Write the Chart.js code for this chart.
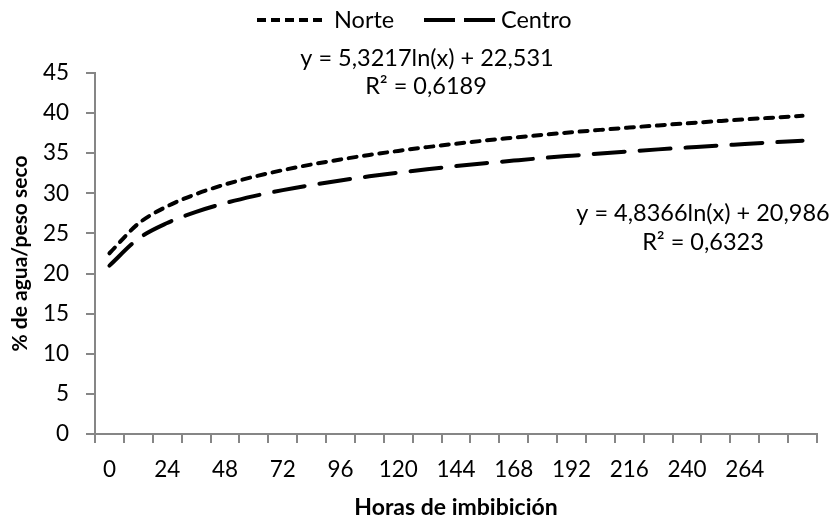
<!DOCTYPE html>
<html>
<head>
<meta charset="utf-8">
<script src="https://cdn.jsdelivr.net/npm/chart.js@4"></script>
<style>
html,body{margin:0;padding:0;background:#fff;}
#wrap{width:836px;height:521px;position:relative;}
</style>
</head>
<body>
<div id="wrap"><canvas id="c" width="836" height="521"></canvas></div>
<script>
// Categories (hours of imbibition, every 12 h)
const categories = ['0','12','24','36','48','60','72','84','96','108','120','132','144','156','168','180','192','204','216','228','240','252','264','276','288'];
// Tick labels shown on the x axis
const tickLabels = ['0','24','48','72','96','120','144','168','192','216','240','264'];
// Series values (trend lines)
const norte = [22.53,26.22,28.38,29.91,31.10,32.07,32.89,33.60,34.22,34.79,35.29,35.76,36.18,36.58,36.94,37.29,37.61,37.91,38.20,38.47,38.73,38.98,39.22,39.44,39.66];
const centro = [20.99,24.34,26.30,27.69,28.77,29.65,30.40,31.04,31.61,32.12,32.58,33.00,33.39,33.75,34.08,34.40,34.69,34.97,35.23,35.48,35.71,35.94,36.15,36.36,36.56];
const yTicks = [0,5,10,15,20,25,30,35,40,45];
const seriesNames = ['Norte','Centro'];
const equations = [['y = 5,3217ln(x) + 22,531','R² = 0,6189'],['y = 4,8366ln(x) + 20,986','R² = 0,6323']];

const FONT = 'Lato, "Open Sans", sans-serif';
const AXIS = '#868686';

const annot = {
  id:'annot',
  afterDraw(chart){
    const ctx = chart.ctx;
    ctx.save();
    ctx.fillStyle = '#000';
    ctx.font = '23.5px ' + FONT;
    ctx.textBaseline = 'middle';
    // legend
    ctx.strokeStyle = '#000';
    ctx.lineWidth = 4;
    ctx.lineCap = 'butt';
    ctx.setLineDash([9,5]);
    ctx.beginPath(); ctx.moveTo(257,20); ctx.lineTo(327,20); ctx.stroke();
    ctx.setLineDash([31,9]);
    ctx.beginPath(); ctx.moveTo(424,20); ctx.lineTo(496,20); ctx.stroke();
    ctx.setLineDash([]);
    ctx.textAlign = 'left';
    ctx.fillText(seriesNames[0], 334, 20);
    ctx.fillText(seriesNames[1], 501, 20);
    // equations
    ctx.textAlign = 'center';
    ctx.fillText(equations[0][0], 427, 58);
    ctx.fillText(equations[0][1], 426, 86);
    ctx.fillText(equations[1][0], 703, 213);
    ctx.fillText(equations[1][1], 703, 242);
    ctx.restore();
  }
};

new Chart(document.getElementById('c'), {
  type:'line',
  data:{
    labels: categories,
    datasets:[
      {label:seriesNames[0], data:norte, borderColor:'#000', borderWidth:4, borderDash:[8,7.5], borderCapStyle:'round', pointRadius:0, cubicInterpolationMode:'monotone', fill:false},
      {label:seriesNames[1], data:centro, borderColor:'#000', borderWidth:4, borderDash:[31,15], borderCapStyle:'round', pointRadius:0, cubicInterpolationMode:'monotone', fill:false}
    ]
  },
  options:{
    responsive:false,
    animation:false,
    layout:{padding:{top:73,right:19,left:0,bottom:0}},
    plugins:{legend:{display:false},tooltip:{enabled:false}},
    scales:{
      x:{
        type:'category',
        offset:true,
        grid:{offset:true,drawOnChartArea:false,tickLength:9,color:AXIS,lineWidth:2},
        border:{color:AXIS,width:2},
        ticks:{autoSkip:false,maxRotation:0,color:'#000',font:{family:FONT,size:22.5},padding:13,
          callback(v,i){const l=categories[i];return tickLabels.includes(l)?l:'';}},
        title:{display:true,text:'Horas de imbibición',color:'#000',font:{family:FONT,size:23,weight:'bold'},padding:{top:0,bottom:0}},
        afterFit(s){s.height=87;}
      },
      y:{
        min:0,max:45,
        grid:{drawOnChartArea:false,tickLength:9,color:AXIS,lineWidth:2},
        border:{color:AXIS,width:2},
        afterBuildTicks(s){s.ticks=yTicks.map(v=>({value:v}));},
        ticks:{color:'#000',font:{family:FONT,size:22.5},padding:17},
        title:{display:true,text:'% de agua/peso seco',color:'#000',font:{family:FONT,size:21,weight:'bold'},padding:{top:8,bottom:0}},
        afterFit(s){s.width=95;}
      }
    }
  },
  plugins:[annot]
});
</script>
</body>
</html>
